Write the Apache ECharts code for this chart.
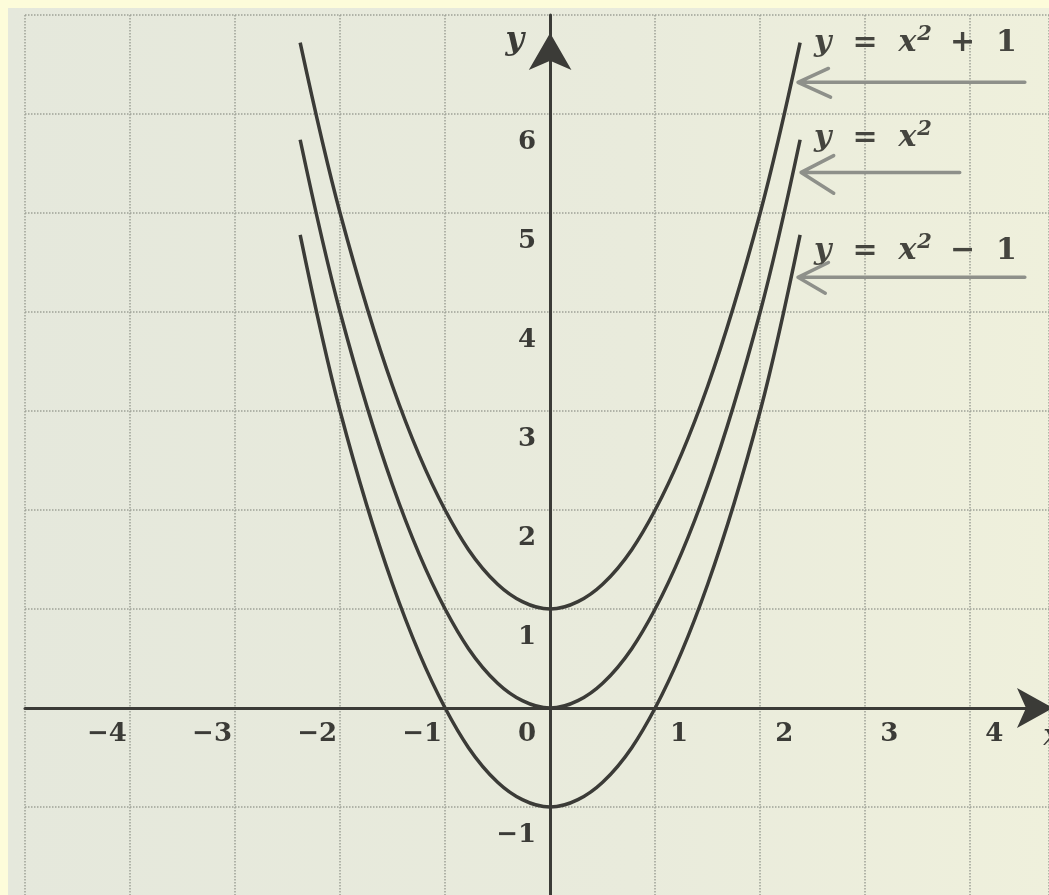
<!DOCTYPE html>
<html>
<head>
<meta charset="utf-8">
<title>y = x², y = x² + 1, y = x² − 1</title>
<script src="https://cdn.jsdelivr.net/npm/echarts@6/dist/echarts.min.js"></script>
<style>
    html, body { margin: 0; padding: 0; background: #fdfcda; }
    #main { width: 1049px; height: 895px; }
</style>
</head>
<body>
<div id="main"></div>
<script>
// x values where the curves were read, and the three curves
var xs = [-2.38, -2, -1.5, -1, -0.5, 0, 0.5, 1, 1.5, 2, 2.38];
var yPlus1 = [6.72, 5, 3.25, 2, 1.25, 1, 1.25, 2, 3.25, 5, 6.72];
var ySquare = [5.74, 4, 2.25, 1, 0.25, 0, 0.25, 1, 2.25, 4, 5.74];
var yMinus1 = [4.78, 3, 1.25, 0, -0.75, -1, -0.75, 0, 1.25, 3, 4.78];

// formulas written next to the curve ends (base, exponent, tail)
var curveNames = ['y = x² + 1', 'y = x²', 'y = x² − 1'];
var formulaTails = ['+  1', '', '−  1'];

// tick labels that are printed
var xTickLabels = [-4, -3, -2, -1, 0, 1, 2, 3, 4];
var yTickLabels = [-1, 1, 2, 3, 4, 5, 6];

// gray pointer arrows next to the formulas: tail, tip, chevron up, chevron down
var arrowTails = [[4.52, 6.32], [3.9, 5.41], [4.52, 4.35]];
var arrowTips = [[2.36, 6.32], [2.39, 5.41], [2.36, 4.35]];
var chevUp = [[2.65, 6.46], [2.7, 5.58], [2.65, 4.5]];
var chevDown = [[2.67, 6.17], [2.7, 5.2], [2.62, 4.19]];

var ink = '#3b3b37';
var serif = '"DejaVu Serif", "Liberation Serif", serif';

// grid: x from -5 to 4.75, y from -2 to 7, both axes drawn through zero
var gridLeft = 25, gridTop = 15, gridW = 1024, gridH = 891;
var xMin = -5, xMax = 4.75, yMin = -2, yMax = 7;

function pairs(y) {
    var out = [];
    for (var i = 0; i < xs.length; i++) {
        out.push([xs[i], y[i]]);
    }
    return out;
}

function minus(v) {
    return String(v).replace('-', '−');
}

var formulaRich = {
    v: { fontFamily: serif, fontSize: 30, fontStyle: 'italic', fontWeight: 'bold', color: '#45453f' },
    s: { fontFamily: serif, fontSize: 21, fontStyle: 'italic', fontWeight: 'bold', color: '#45453f', padding: [0, 0, 16, 1] },
    t: { fontFamily: serif, fontSize: 30, fontWeight: 'bold', color: '#45453f', padding: [0, 0, 0, 18] }
};

function curveSeries(i, y, dy) {
    var tail = formulaTails[i];
    return {
        type: 'line',
        name: curveNames[i],
        data: pairs(y),
        smooth: 0.35,
        showSymbol: false,
        symbol: 'none',
        lineStyle: { color: ink, width: 3.5 },
        endLabel: {
            show: true,
            distance: 14,
            offset: [0, dy],
            formatter: function () {
                return '{v|y  =  x}{s|2}' + (tail ? '{t|' + tail + '}' : '');
            },
            rich: formulaRich
        },
        z: 5
    };
}

function arrowSeries(i) {
    return {
        type: 'line',
        data: [arrowTails[i], arrowTips[i], chevUp[i], arrowTips[i], chevDown[i]],
        showSymbol: false,
        symbol: 'none',
        lineStyle: { color: '#8e908a', width: 3.5, cap: 'round', join: 'round' },
        silent: true,
        z: 3
    };
}

var myChart = echarts.init(document.getElementById('main'));

var xZero = gridLeft + gridW * (0 - xMin) / (xMax - xMin);
var yZero = gridTop + gridH * (yMax - 0) / (yMax - yMin);

var option = {
    animation: false,
    backgroundColor: '#fdfcda',
    graphic: [
        {
            type: 'rect',
            left: 8,
            top: 8,
            shape: { width: 1041, height: 887 },
            style: {
                fill: {
                    type: 'linear', x: 0, y: 0, x2: 1, y2: 0,
                    colorStops: [
                        { offset: 0, color: '#e5e8dc' },
                        { offset: 0.6, color: '#e9ebdc' },
                        { offset: 1, color: '#eff0dc' }
                    ]
                }
            },
            z: -10
        }
    ],
    grid: {
        left: gridLeft,
        top: gridTop,
        width: gridW,
        height: gridH,
        outerBoundsMode: 'none',
        containLabel: false
    },
    xAxis: {
        type: 'value',
        min: xMin,
        max: xMax,
        interval: 1,
        position: 'bottom',
        offset: -(gridTop + gridH - yZero),
        name: 'x',
        nameLocation: 'end',
        nameGap: -6,
        nameTextStyle: {
            fontFamily: serif, fontSize: 30, fontStyle: 'italic',
            color: ink, align: 'left', verticalAlign: 'top', padding: [14, 0, 0, 0]
        },
        axisLine: {
            onZero: false,
            lineStyle: { color: ink, width: 3 },
            symbol: ['none', 'arrow'],
            symbolSize: [30, 36],
            symbolOffset: [0, 4]
        },
        axisTick: { show: false },
        splitLine: {
            show: true,
            lineStyle: { color: '#9ea197', width: 1.5, type: 'dotted' }
        },
        axisLabel: {
            margin: 13,
            formatter: function (v) {
                if (xTickLabels.indexOf(v) < 0) return '';
                return v <= 0 ? '{neg|' + minus(v) + '}' : '{pos|' + v + '}';
            },
            rich: {
                neg: { fontFamily: serif, fontSize: 26, fontWeight: 'bold', color: ink, padding: [0, 46, 0, 0] },
                pos: { fontFamily: serif, fontSize: 26, fontWeight: 'bold', color: ink, padding: [0, 0, 0, 48] }
            }
        }
    },
    yAxis: {
        type: 'value',
        min: yMin,
        max: yMax,
        interval: 1,
        position: 'left',
        offset: -(xZero - gridLeft),
        name: 'y',
        nameLocation: 'end',
        nameGap: -26,
        nameTextStyle: {
            fontFamily: serif, fontSize: 32, fontStyle: 'italic', fontWeight: 'bold',
            color: ink, align: 'right', verticalAlign: 'middle', padding: [0, 26, 0, 0]
        },
        axisLine: {
            onZero: false,
            lineStyle: { color: ink, width: 3 },
            symbol: ['none', 'arrow'],
            symbolSize: [32, 37],
            symbolOffset: [0, -18]
        },
        axisTick: { show: false },
        splitLine: {
            show: true,
            lineStyle: { color: '#9ea197', width: 1.5, type: 'dotted' }
        },
        axisLabel: {
            margin: 14,
            verticalAlign: 'top',
            padding: [15, 0, 0, 0],
            fontFamily: serif,
            fontSize: 26,
            fontWeight: 'bold',
            color: ink,
            formatter: function (v) {
                return yTickLabels.indexOf(v) < 0 ? '' : minus(v);
            }
        }
    },
    series: [
        curveSeries(0, yPlus1, 0),
        curveSeries(1, ySquare, -2),
        curveSeries(2, yMinus1, 16),
        arrowSeries(0),
        arrowSeries(1),
        arrowSeries(2)
    ]
};

myChart.setOption(option);
</script>
</body>
</html>
